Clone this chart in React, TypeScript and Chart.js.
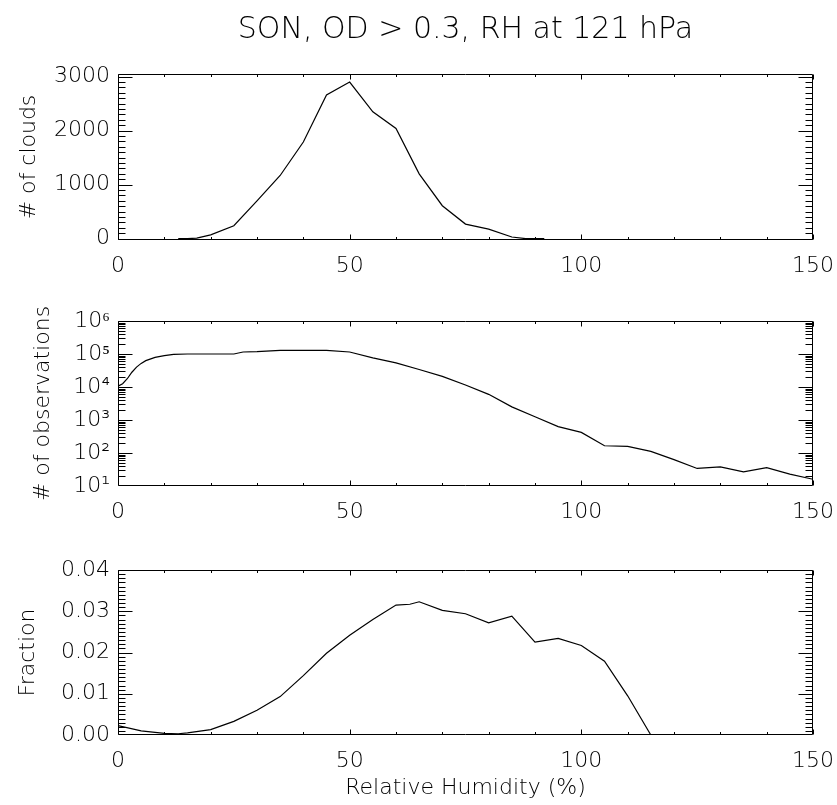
import React, { useEffect, useRef } from 'react';
import { Chart, registerables } from 'chart.js';

Chart.register(...registerables);

// ---------- data ----------
const TITLE = 'SON, OD > 0.3, RH at 121 hPa';
const X_TITLE = 'Relative Humidity (%)';
const X_TICKS = [0, 50, 100, 150];

const CLOUD_RH = [13, 15, 17, 20, 25, 30, 35, 40, 45, 50, 55, 60, 65, 70, 75, 80, 85, 88, 92];
const CLOUD_COUNT = [0, 0, 10, 70, 240, 700, 1170, 1790, 2660, 2900, 2350, 2040, 1200, 610, 270, 175, 30, 0, 0];
const CLOUD_TICKS = [0, 1000, 2000, 3000];

const OBS_RH = [0, 1, 2, 3, 4, 5, 6, 8, 10, 12, 15, 20, 25, 27, 30, 35, 40, 45, 50, 55, 60, 65, 70, 75, 80, 85, 90, 95, 100, 105, 110, 115, 120, 125, 130, 135, 140, 145, 150];
const OBS_COUNT = [10500, 12600, 17800, 28000, 40000, 52000, 63000, 79000, 89000, 98000, 100000, 100000, 100000, 115000, 118000, 129000, 129000, 129000, 115000, 76000, 54000, 34000, 21000, 11500, 6000, 2500, 1260, 630, 420, 166, 158, 112, 63, 34, 38, 27, 36, 23, 16];
const OBS_TICKS = [10, 100, 1000, 10000, 100000, 1000000];

const FRAC_RH = [0, 5, 10, 13, 15, 20, 25, 30, 35, 40, 45, 50, 55, 60, 63, 65, 70, 75, 80, 85, 90, 95, 100, 105, 110, 115];
const FRAC = [0.0023, 0.001, 0.0004, 0.0003, 0.0005, 0.0013, 0.0033, 0.006, 0.0093, 0.0144, 0.0198, 0.0242, 0.028, 0.0315, 0.0317, 0.0323, 0.0302, 0.0294, 0.0272, 0.0288, 0.0225, 0.0234, 0.0217, 0.0179, 0.0095, 0.0];
const FRAC_TICKS = [0, 0.01, 0.02, 0.03, 0.04];

// ---------- styling ----------
const FONT = 'DejaVu Sans';
const W = 837;
const SUP: Record<string, string> = { '0': '⁰', '1': '¹', '2': '²', '3': '³', '4': '⁴', '5': '⁵', '6': '⁶', '7': '⁷', '8': '⁸', '9': '⁹' };

const X_MINOR: number[] = [];
for (let v = 0; v <= 150; v += 10) if (v % 50 !== 0) X_MINOR.push(v);

function linMinor(min: number, max: number, step: number) {
  const out: number[] = [];
  const n0 = Math.ceil(min / step - 1e-9), n1 = Math.floor(max / step + 1e-9);
  for (let i = n0; i <= n1; i++) out.push(+(i * step).toFixed(6));
  return out;
}
function logMinor(minExp: number, maxExp: number) {
  const out: number[] = [];
  for (let e = minExp; e < maxExp; e++) for (let k = 2; k <= 9; k++) out.push(k * Math.pow(10, e));
  return out;
}

const idlAxes = {
  id: 'idlAxes',
  afterDatasetsDraw(chart: any, _args: any, opts: any) {
    const { ctx, chartArea: a, scales } = chart;
    const xs = scales.x, ys = scales.y;
    ctx.save();
    ctx.strokeStyle = '#000';
    ctx.lineWidth = 1;
    const L = Math.round(a.left) + 0.5, R = Math.round(a.right) - 0.5;
    const T = Math.round(a.top) + 0.5, B = Math.round(a.bottom) - 0.5;
    ctx.beginPath();
    ctx.rect(L, T, R - L, B - T);
    const xt: [number[], number][] = [[opts.xMajor || [], 5], [opts.xMinor || [], 2.5]];
    for (const [vals, len] of xt) {
      for (const v of vals) {
        const p = Math.round(xs.getPixelForValue(v)) + 0.5;
        ctx.moveTo(p, B); ctx.lineTo(p, B - len);
        ctx.moveTo(p, T); ctx.lineTo(p, T + len);
      }
    }
    const yt: [number[], number][] = [[opts.yMajor || [], 14], [opts.yMinor || [], 7]];
    for (const [vals, len] of yt) {
      for (const v of vals) {
        const p = Math.round(ys.getPixelForValue(v)) + 0.5;
        if (p < T - 0.6 || p > B + 0.6) continue;
        ctx.moveTo(L, p); ctx.lineTo(L + len, p);
        ctx.moveTo(R, p); ctx.lineTo(R - len, p);
      }
    }
    ctx.stroke();
    ctx.restore();
  },
};

const font = (size: number) => ({ family: FONT, size, weight: '200' as any });

function makeConfig(p: {
  xs: number[]; ys: number[]; yType: 'linear' | 'logarithmic'; yMin: number; yMax: number;
  yTicks: number[]; yFmt: (v: number) => string; yTitle: string; yTitlePad: number;
  yMinor: number[]; padTop: number; xAxisH: number; title?: string; xTitle?: string;
}) {
  return {
    type: 'line' as const,
    data: {
      datasets: [{
        data: p.xs.map((x, i) => ({ x, y: p.ys[i] })),
        borderColor: '#000',
        borderWidth: 1.2,
        pointRadius: 0,
        tension: 0,
        fill: false,
      }],
    },
    options: {
      responsive: false,
      maintainAspectRatio: false,
      devicePixelRatio: 1,
      animation: false as const,
      layout: { padding: { top: p.padTop, left: 0, right: 24, bottom: 0 } },
      plugins: {
        legend: { display: false },
        tooltip: { enabled: false },
        title: p.title ? {
          display: true, text: p.title, fullSize: false, color: '#000',
          font: font(30), padding: { top: 12, bottom: 26 },
        } : { display: false },
        idlAxes: { xMajor: X_TICKS, xMinor: X_MINOR, yMajor: p.yTicks, yMinor: p.yMinor },
      },
      scales: {
        x: {
          type: 'linear' as const, min: 0, max: 150, bounds: 'data' as const,
          grid: { display: false, drawTicks: false, tickLength: 0 },
          border: { display: false },
          afterBuildTicks: (s: any) => { s.ticks = X_TICKS.map((value) => ({ value })); },
          afterFit: (s: any) => { s.height = p.xAxisH; s.paddingLeft = 0; s.paddingRight = 0; },
          ticks: { color: '#000', font: font(22), padding: 13, autoSkip: false, maxRotation: 0, callback: (v: any) => String(v) },
          title: p.xTitle ? { display: true, text: p.xTitle, color: '#000', font: font(22), padding: { top: 0, bottom: 4 } } : { display: false },
        },
        y: {
          type: p.yType, min: p.yMin, max: p.yMax, bounds: 'data' as const,
          grid: { display: false, drawTicks: false, tickLength: 0 },
          border: { display: false },
          afterBuildTicks: (s: any) => { s.ticks = p.yTicks.map((value) => ({ value })); },
          afterFit: (s: any) => { s.width = 118; s.paddingTop = 0; s.paddingBottom = 0; },
          ticks: { color: '#000', font: font(22), padding: 8, autoSkip: false, callback: (v: any) => p.yFmt(Number(v)) },
          title: { display: true, text: p.yTitle, color: '#000', font: font(22), padding: { top: p.yTitlePad, bottom: 0 } },
        },
      },
    },
    plugins: [idlAxes],
  };
}

function Panel({ top, height, config }: { top: number; height: number; config: () => any }) {
  const ref = useRef<HTMLCanvasElement | null>(null);
  useEffect(() => {
    if (!ref.current) return;
    const c = new Chart(ref.current, config());
    return () => c.destroy();
  }, []);
  return (
    <canvas
      ref={ref}
      width={W}
      height={height}
      style={{ position: 'absolute', left: 0, top, width: W, height, display: 'block' }}
    />
  );
}

export default function App() {
  return (
    <div style={{ position: 'absolute', left: 0, top: 0, width: W, height: 805, background: '#fff', overflow: 'hidden' }}>
      <Panel
        top={0}
        height={290}
        config={() => makeConfig({
          xs: CLOUD_RH, ys: CLOUD_COUNT, yType: 'linear', yMin: -25, yMax: 3050,
          yTicks: CLOUD_TICKS, yFmt: (v) => String(Math.round(v)), yTitle: '# of clouds', yTitlePad: 16,
          yMinor: linMinor(-25, 3050, 100), padTop: 0, xAxisH: 50, title: TITLE,
        })}
      />
      <Panel
        top={290}
        height={240}
        config={() => makeConfig({
          xs: OBS_RH, ys: OBS_COUNT, yType: 'logarithmic', yMin: 10, yMax: 1000000,
          yTicks: OBS_TICKS,
          yFmt: (v) => '10' + String(Math.round(Math.log10(v))).split('').map((d) => SUP[d] || d).join(''),
          yTitle: '# of observations', yTitlePad: 30,
          yMinor: logMinor(1, 6), padTop: 31, xAxisH: 44,
        })}
      />
      <Panel
        top={530}
        height={275}
        config={() => makeConfig({
          xs: FRAC_RH, ys: FRAC, yType: 'linear', yMin: 0, yMax: 0.04,
          yTicks: FRAC_TICKS, yFmt: (v) => v.toFixed(2), yTitle: 'Fraction', yTitlePad: 15,
          yMinor: linMinor(0, 0.04, 0.001), padTop: 40, xAxisH: 70, xTitle: X_TITLE,
        })}
      />
    </div>
  );
}
